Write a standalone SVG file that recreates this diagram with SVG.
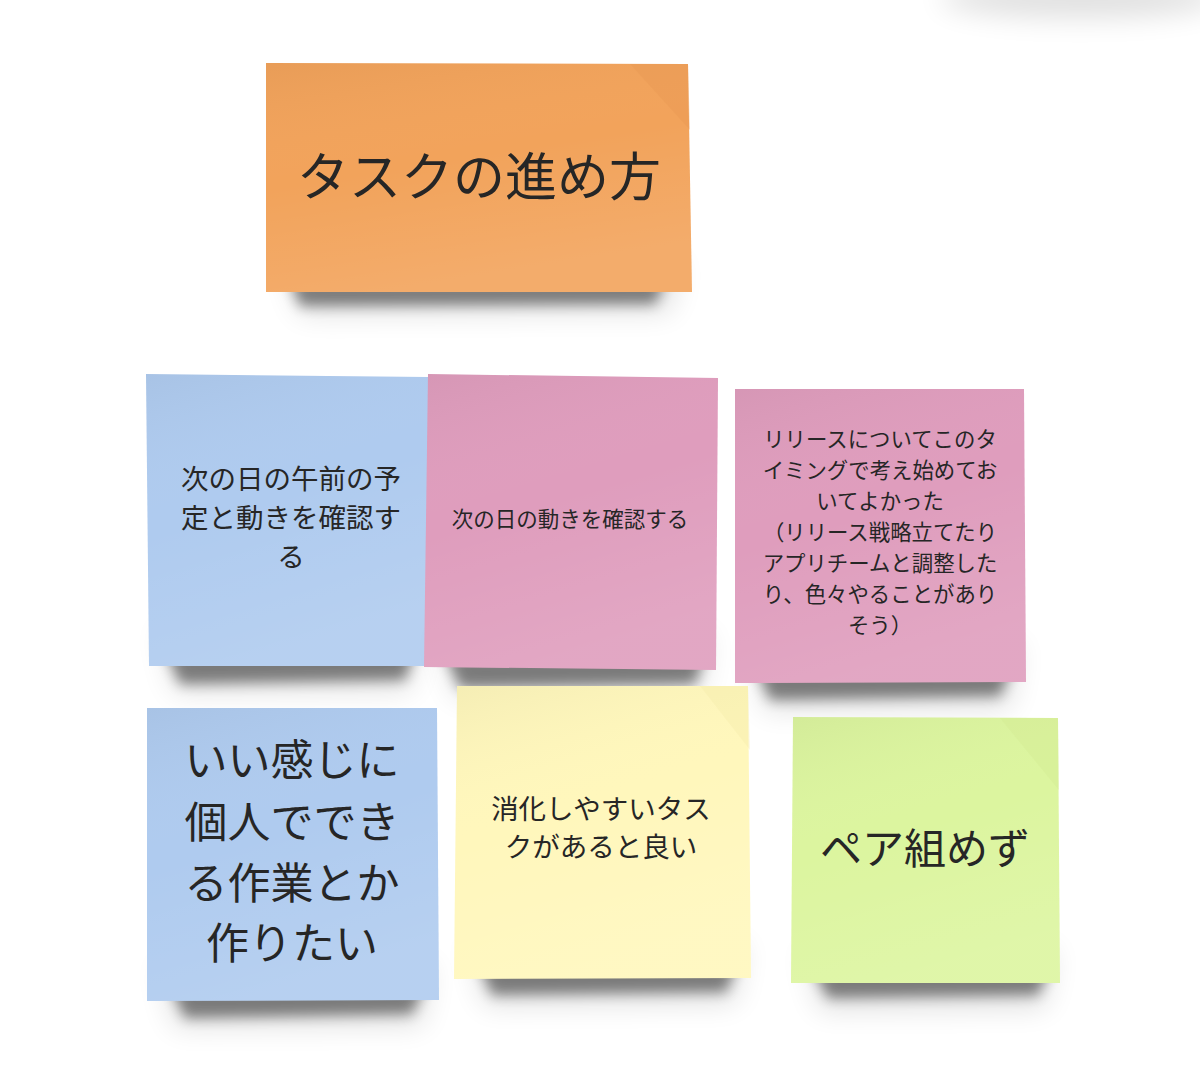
<svg xmlns="http://www.w3.org/2000/svg" width="1200" height="1089" viewBox="0 0 1200 1089">
<style>
.t{font-family:"Noto Sans CJK JP","Noto Sans",sans-serif;fill:#262626;text-anchor:middle;dominant-baseline:central}
.sh{fill:#000;opacity:0.45;filter:url(#blur)}
.shs{fill:#000;opacity:0.12;filter:url(#blur2)}
</style>
<defs>
<filter id="blur" x="-20%" y="-50%" width="140%" height="200%"><feGaussianBlur stdDeviation="6.5"/></filter>
<filter id="blur2" x="-30%" y="-80%" width="160%" height="260%"><feGaussianBlur stdDeviation="14"/></filter>
<linearGradient id="sheen" x1="0" y1="0" x2="0.3" y2="1">
<stop offset="0" stop-color="#000" stop-opacity="0.04"/>
<stop offset="0.5" stop-color="#fff" stop-opacity="0"/>
<stop offset="1" stop-color="#fff" stop-opacity="0.1"/>
</linearGradient>
</defs>
<rect width="1200" height="1089" fill="#fff"/>
<ellipse class="shs" cx="1080" cy="-2" rx="140" ry="20"/>

<g id="note-title">
<polygon class="shs" points="285,262 680,262 670,312 300,314"/>
<polygon class="sh" points="290,280 665,280 655,304 300,306"/>
<polygon points="266,63 688,64 692,292 266,292" fill="#F2A35B"/>
<polygon points="266,63 688,64 692,292 266,292" fill="url(#sheen)"/>
<polygon points="630,64 688,64 690,130" fill="#E39550" opacity="0.3"/>
<text class="t" x="479" y="173" font-size="52">タスクの進め方</text>
</g>

<g id="note-blue1">
<polygon class="shs" points="160,630 420,630 410,690 175,692"/>
<polygon class="sh" points="165,650 415,650 405,680 180,684"/>
<polygon points="146,374 428,377 428,666 149,666" fill="#AFCBEF"/>
<polygon points="146,374 428,377 428,666 149,666" fill="url(#sheen)"/>
<text class="t" font-size="27.5"><tspan x="291" y="477">次の日の午前の予</tspan><tspan x="291" y="516">定と動きを確認す</tspan><tspan x="291" y="555">る</tspan></text>
</g>

<g id="note-pink1">
<polygon class="shs" points="440,635 710,635 700,695 455,697"/>
<polygon class="sh" points="445,655 705,655 695,684 460,688"/>
<polygon points="428,374 718,378 716,670 424,667" fill="#DF9DBD"/>
<polygon points="428,374 718,378 716,670 424,667" fill="url(#sheen)"/>
<text class="t" x="570" y="517" font-size="21.5">次の日の動きを確認する</text>
</g>

<g id="note-pink2">
<polygon class="shs" points="750,645 1020,645 1010,708 765,710"/>
<polygon class="sh" points="755,666 1012,666 1000,696 770,700"/>
<polygon points="735,389 1024,389 1026,682 735,683" fill="#DF9DBD"/>
<polygon points="735,389 1024,389 1026,682 735,683" fill="url(#sheen)"/>
<text class="t" font-size="21.4"><tspan x="880" y="437">リリースについてこのタ</tspan><tspan x="880" y="468">イミングで考え始めてお</tspan><tspan x="880" y="499">いてよかった</tspan><tspan x="880" y="530">（リリース戦略立てたり</tspan><tspan x="880" y="561">アプリチームと調整した</tspan><tspan x="880" y="592">り、色々やることがあり</tspan><tspan x="880" y="623">そう）</tspan></text>
</g>

<g id="note-blue2">
<polygon class="shs" points="160,965 432,965 422,1025 175,1027"/>
<polygon class="sh" points="170,985 425,985 412,1014 185,1018"/>
<polygon points="147,708 437,708 439,1000 147,1001" fill="#AFCBEF"/>
<polygon points="147,708 437,708 439,1000 147,1001" fill="url(#sheen)"/>
<text class="t" font-size="43"><tspan x="292" y="757">いい感じに</tspan><tspan x="292" y="819">個人ででき</tspan><tspan x="292" y="880">る作業とか</tspan><tspan x="292" y="940">作りたい</tspan></text>
</g>

<g id="note-yellow">
<polygon class="shs" points="470,945 745,945 735,1003 485,1005"/>
<polygon class="sh" points="478,962 738,962 726,992 492,995"/>
<polygon points="457,686 748,686 751,978 454,979" fill="#FFF7BC"/>
<polygon points="457,686 748,686 751,978 454,979" fill="url(#sheen)"/>
<polygon points="700,686 748,686 750,750" fill="#F2E8A6" opacity="0.3"/>
<text class="t" font-size="27.5"><tspan x="601" y="807">消化しやすいタス</tspan><tspan x="601" y="845">クがあると良い</tspan></text>
</g>

<g id="note-green">
<polygon class="shs" points="805,950 1055,950 1045,1008 820,1010"/>
<polygon class="sh" points="812,967 1050,967 1038,995 828,998"/>
<polygon points="793,717 1058,718 1060,983 791,983" fill="#DCF59F"/>
<polygon points="793,717 1058,718 1060,983 791,983" fill="url(#sheen)"/>
<polygon points="1000,718 1058,718 1059,790" fill="#CFE890" opacity="0.3"/>
<text class="t" x="925" y="845" font-size="42">ペア組めず</text>
</g>

<g id="connectors"></g>
</svg>
